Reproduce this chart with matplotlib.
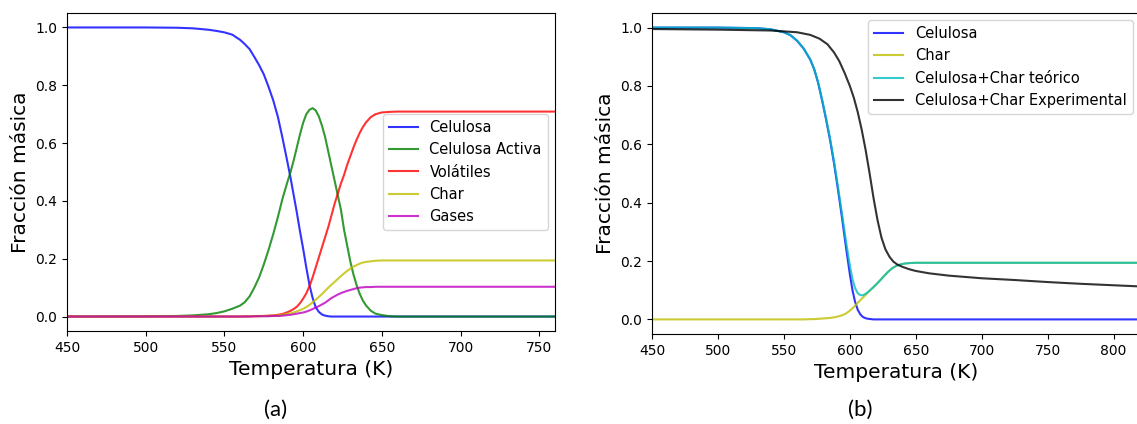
import numpy as np
import matplotlib.pyplot as plt

# (a) modelo Broido-Shafizadeh
T_a = [450, 500, 520, 530, 540, 545, 550, 555, 560, 563, 566, 569, 572, 575, 578, 581,
       584, 587, 590, 592, 594, 596, 598, 600, 602, 604, 606, 608, 610, 612, 614, 616,
       618, 620, 622, 624, 626, 628, 630, 632, 634, 636, 638, 640, 643, 646, 650, 655,
       660, 700, 760]
celulosa_a = [1.0, 1.0, 0.999, 0.997, 0.992, 0.988, 0.983, 0.975, 0.957, 0.942, 0.925,
              0.898, 0.87, 0.838, 0.795, 0.748, 0.69, 0.615, 0.535, 0.48, 0.42, 0.36,
              0.295, 0.235, 0.17, 0.11, 0.065, 0.032, 0.016, 0.007, 0.003, 0.001, 0.0,
              0.0, 0.0, 0.0, 0.0, 0.0, 0.0, 0.0, 0.0, 0.0, 0.0, 0.0, 0.0, 0.0, 0.0, 0.0,
              0.0, 0.0, 0.0]
activa_a = [0.0, 0.001, 0.002, 0.004, 0.008, 0.012, 0.018, 0.027, 0.038, 0.05, 0.07,
            0.1, 0.135, 0.18, 0.23, 0.285, 0.345, 0.41, 0.465, 0.50, 0.54, 0.585, 0.63,
            0.67, 0.70, 0.715, 0.721, 0.713, 0.692, 0.66, 0.62, 0.57, 0.52, 0.47, 0.42,
            0.37, 0.30, 0.245, 0.19, 0.145, 0.108, 0.078, 0.055, 0.038, 0.02, 0.01, 0.005,
            0.001, 0.0, 0.0, 0.0]
volatiles_a = [0.0, 0.0, 0.0, 0.0, 0.0, 0.0, 0.0, 0.0, 0.0, 0.001, 0.001, 0.001, 0.002,
               0.002, 0.003, 0.004, 0.006, 0.009, 0.015, 0.02, 0.026, 0.034, 0.046, 0.062,
               0.08, 0.105, 0.135, 0.17, 0.205, 0.24, 0.275, 0.31, 0.35, 0.39, 0.425,
               0.46, 0.49, 0.525, 0.555, 0.585, 0.612, 0.636, 0.656, 0.672, 0.69, 0.70,
               0.706, 0.708, 0.709, 0.709, 0.709]
char_a = [0.0, 0.0, 0.0, 0.0, 0.0, 0.0, 0.0, 0.0, 0.0, 0.0, 0.001, 0.001, 0.001, 0.002,
          0.002, 0.003, 0.004, 0.006, 0.009, 0.011, 0.014, 0.018, 0.022, 0.027, 0.033,
          0.04, 0.049, 0.058, 0.068, 0.078, 0.089, 0.10, 0.11, 0.12, 0.13, 0.14, 0.149,
          0.158, 0.166, 0.173, 0.178, 0.183, 0.187, 0.189, 0.191, 0.193, 0.194, 0.194,
          0.194, 0.194, 0.194]
gases_a = [0.0, 0.0, 0.0, 0.0, 0.0, 0.0, 0.0, 0.0, 0.0, 0.0, 0.0, 0.001, 0.001, 0.001,
           0.001, 0.002, 0.002, 0.003, 0.005, 0.006, 0.008, 0.01, 0.012, 0.014, 0.017,
           0.021, 0.026, 0.031, 0.036, 0.042, 0.048, 0.056, 0.064, 0.07, 0.076, 0.081,
           0.085, 0.089, 0.092, 0.095, 0.098, 0.10, 0.101, 0.102, 0.102, 0.103, 0.103,
           0.103, 0.103, 0.103, 0.103]

# (b) comparacion con experimental
T_b = [450, 500, 530, 540, 550, 555, 560, 565, 570, 573, 576, 579, 582, 585, 588, 591,
       594, 597, 600, 602, 604, 606, 608, 610, 612, 614, 616, 618, 620, 623, 626, 629,
       632, 635, 638, 641, 645, 650, 700, 820]
celulosa_b = [1.0, 1.0, 0.998, 0.994, 0.984, 0.974, 0.955, 0.928, 0.89, 0.857, 0.81,
              0.75, 0.685, 0.615, 0.535, 0.445, 0.35, 0.25, 0.155, 0.10, 0.06, 0.033,
              0.017, 0.008, 0.004, 0.002, 0.001, 0.0, 0.0, 0.0, 0.0, 0.0, 0.0, 0.0, 0.0,
              0.0, 0.0, 0.0, 0.0, 0.0]
char_b = [0.0, 0.0, 0.0, 0.0, 0.0, 0.0, 0.0, 0.0, 0.001, 0.001, 0.002, 0.003, 0.004,
          0.005, 0.007, 0.01, 0.014, 0.02, 0.03, 0.038, 0.047, 0.057, 0.066, 0.075, 0.084,
          0.093, 0.102, 0.111, 0.12, 0.134, 0.149, 0.163, 0.175, 0.183, 0.188, 0.191,
          0.193, 0.194, 0.194, 0.194]
teorico_b = [1.0, 1.0, 0.998, 0.994, 0.984, 0.974, 0.955, 0.928, 0.891, 0.858, 0.812,
             0.753, 0.689, 0.62, 0.542, 0.455, 0.364, 0.27, 0.185, 0.138, 0.107, 0.09,
             0.083, 0.083, 0.088, 0.095, 0.103, 0.111, 0.12, 0.134, 0.149, 0.163, 0.175,
             0.183, 0.188, 0.191, 0.193, 0.194, 0.194, 0.194]
T_exp = [450, 500, 540, 560, 570, 577, 583, 588, 592, 596, 600, 603, 606, 609, 612, 615,
         618, 621, 624, 627, 630, 633, 636, 640, 645, 650, 660, 675, 700, 725, 750, 775,
         800, 820]
experimental = [0.995, 0.993, 0.99, 0.984, 0.975, 0.962, 0.943, 0.915, 0.885, 0.845,
                0.80, 0.76, 0.71, 0.65, 0.58, 0.50, 0.415, 0.34, 0.28, 0.24, 0.215, 0.198,
                0.188, 0.18, 0.172, 0.166, 0.158, 0.15, 0.141, 0.135, 0.128, 0.122, 0.117,
                0.113]

fig = plt.figure(figsize=(11.37, 4.24), dpi=100)
ax1 = fig.add_axes([67/1137, 1-331/424, 488/1137, 318/424])
ax2 = fig.add_axes([652/1137, 1-334/424, 488/1137, 321/424])

ax1.plot(T_a, celulosa_a, 'b', alpha=0.8, lw=1.5, label='Celulosa')
ax1.plot(T_a, activa_a, 'g', alpha=0.8, lw=1.5, label='Celulosa Activa')
ax1.plot(T_a, volatiles_a, 'r', alpha=0.8, lw=1.5, label='Volátiles')
ax1.plot(T_a, char_a, 'y', alpha=0.8, lw=1.5, label='Char')
ax1.plot(T_a, gases_a, 'm', alpha=0.8, lw=1.5, label='Gases')
ax1.set_xlim(450, 760)
ax1.legend(loc='center right', fontsize=10.5)

ax2.plot(T_b, celulosa_b, 'b', alpha=0.8, lw=1.5, label='Celulosa')
ax2.plot(T_b, char_b, 'y', alpha=0.8, lw=1.5, label='Char')
ax2.plot(T_b, teorico_b, 'c', alpha=0.8, lw=1.5, label='Celulosa+Char teórico')
ax2.plot(T_exp, experimental, 'k', alpha=0.8, lw=1.5, label='Celulosa+Char Experimental')
ax2.set_xlim(450, 820)
ax2.legend(loc='upper right', fontsize=10.5)

for ax in (ax1, ax2):
    ax.set_ylim(-0.05, 1.05)
    ax.set_yticks([0.0, 0.2, 0.4, 0.6, 0.8, 1.0])
    ax.tick_params(labelsize=10)
    ax.set_xlabel('Temperatura (K)', fontsize=14.5)
    ax.set_ylabel('Fracción másica', fontsize=14.5)

fig.text(276/1137, 1-410/424, '(a)', fontsize=16, family='Lato', ha='center', va='center')
fig.text(860/1137, 1-410/424, '(b)', fontsize=16, family='Lato', ha='center', va='center')

fig.savefig('out.png', dpi=100)
